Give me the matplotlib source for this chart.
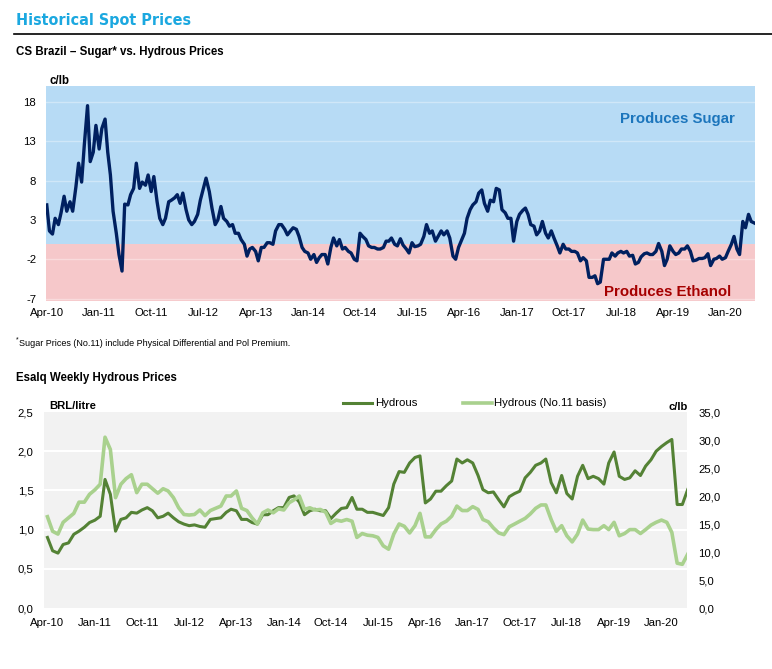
import numpy as np
import pandas as pd
import matplotlib
matplotlib.use('Agg')
import matplotlib.pyplot as plt
from matplotlib.lines import Line2D

plt.rcParams['font.family'] = ['Liberation Sans', 'DejaVu Sans']

# CS Brazil sugar* minus hydrous parity, c/lb, twice a month from Apr-10
sugar_spread = [
    4.9, 1.6, 1.2, 3.2, 2.4, 3.9, 6.0, 4.1, 5.3, 4.1,
    7.2, 10.2, 7.8, 12.5, 17.5, 10.4, 11.6, 15.0, 12.0, 14.6,
    15.8, 11.6, 8.7, 4.1, 1.3, -1.4, -3.5, 5.0, 4.9, 6.2,
    7.0, 10.2, 7.0, 7.8, 7.4, 8.7, 6.6, 8.5, 5.3, 3.2,
    2.4, 3.2, 5.3, 5.5, 5.8, 6.2, 5.1, 6.4, 4.3, 3.0,
    2.4, 2.8, 3.7, 5.5, 7.0, 8.3, 6.6, 4.5, 2.4, 3.0,
    4.7, 3.2, 2.8, 2.2, 2.4, 1.3, 1.3, 0.5, -0.1, -1.6,
    -0.7, -0.5, -1.0, -2.2, -0.5, -0.5, 0.1, 0.1, -0.1, 1.6,
    2.4, 2.4, 1.8, 1.1, 1.6, 2.0, 1.8, 0.9, -0.5, -1.0,
    -1.2, -2.0, -1.4, -2.4, -1.8, -1.4, -1.4, -2.6, -0.5, 0.7,
    -0.3, 0.5, -0.7, -0.5, -1.0, -1.2, -2.0, -2.2, 1.3, 0.9,
    0.5, -0.3, -0.5, -0.5, -0.7, -0.7, -0.5, 0.3, 0.3, 0.7,
    -0.1, -0.3, 0.6, -0.2, -0.7, -1.2, 0.1, -0.4, -0.3, -0.1,
    0.9, 2.4, 1.3, 1.6, 0.3, 0.9, 1.6, 1.1, 1.6, 0.7,
    -1.6, -2.0, -0.5, 0.3, 1.3, 3.2, 4.3, 4.9, 5.3, 6.4,
    6.8, 5.1, 4.1, 5.5, 5.3, 7.0, 6.8, 4.3, 3.9, 3.2,
    3.2, 0.3, 2.8, 3.7, 4.2, 4.5, 3.7, 2.4, 2.2, 1.1,
    1.6, 2.8, 1.3, 0.7, 1.6, 0.7, -0.3, -1.2, -0.1, -0.7,
    -0.7, -1.0, -1.0, -1.2, -2.2, -1.8, -2.2, -4.3, -4.3, -4.1,
    -5.1, -4.9, -2.0, -2.0, -2.0, -1.2, -1.6, -1.2, -1.0, -1.2,
    -1.0, -1.6, -1.5, -2.6, -2.4, -1.7, -1.3, -1.2, -1.4, -1.4,
    -1.0, 0.0, -1.0, -2.8, -2.0, -0.3, -1.0, -1.4, -1.2, -0.7,
    -0.7, -0.3, -1.0, -2.2, -2.1, -1.9, -1.9, -1.8, -1.3, -2.8,
    -2.0, -1.9, -1.6, -2.0, -1.8, -1.0, -0.1, 0.9, -0.7, -1.4,
    2.8, 2.0, 3.7, 2.8, 2.6,
]

# Esalq hydrous, monthly from Apr-10 (BRL/litre)
hydrous_brl = [
    0.90, 0.73, 0.70, 0.81, 0.83, 0.94, 0.98, 1.03, 1.09, 1.12,
    1.17, 1.64, 1.45, 0.98, 1.13, 1.15, 1.22, 1.21, 1.25, 1.28,
    1.24, 1.15, 1.17, 1.21, 1.15, 1.10, 1.07, 1.05, 1.06, 1.04,
    1.03, 1.13, 1.14, 1.15, 1.22, 1.26, 1.24, 1.13, 1.13, 1.09,
    1.07, 1.19, 1.19, 1.24, 1.28, 1.28, 1.41, 1.43, 1.35, 1.19,
    1.24, 1.26, 1.24, 1.24, 1.14, 1.21, 1.27, 1.28, 1.41, 1.26,
    1.26, 1.22, 1.22, 1.20, 1.18, 1.28, 1.58, 1.74, 1.73, 1.85,
    1.92, 1.94, 1.34, 1.39, 1.49, 1.49, 1.56, 1.62, 1.90, 1.85,
    1.89, 1.85, 1.69, 1.51, 1.47, 1.48, 1.38, 1.29, 1.42, 1.46,
    1.49, 1.66, 1.73, 1.82, 1.85, 1.90, 1.60, 1.47, 1.69, 1.46,
    1.39, 1.68, 1.82, 1.65, 1.68, 1.65, 1.58, 1.85, 1.99, 1.68,
    1.64, 1.66, 1.75, 1.69, 1.81, 1.89, 2.00, 2.06, 2.11, 2.15,
    1.32, 1.32, 1.51,
]

# same series on a No.11 basis (c/lb)
hydrous_no11 = [
    16.3, 13.7, 13.2, 15.3, 16.1, 16.9, 18.9, 18.9, 20.3, 21.1,
    22.1, 30.5, 28.3, 19.7, 22.1, 23.1, 23.8, 20.6, 22.1, 22.1,
    21.3, 20.5, 21.3, 20.9, 19.7, 17.9, 16.7, 16.6, 16.7, 17.5,
    16.5, 17.4, 17.8, 18.2, 20.0, 20.0, 20.9, 17.8, 17.4, 16.1,
    15.0, 17.0, 17.5, 17.0, 17.7, 17.5, 18.8, 19.3, 20.0, 17.6,
    17.9, 17.5, 17.6, 17.1, 15.1, 15.7, 15.5, 15.8, 15.5, 12.6,
    13.3, 13.0, 12.9, 12.6, 11.1, 10.5, 13.2, 15.0, 14.6, 13.4,
    14.7, 16.9, 12.7, 12.7, 14.0, 15.0, 15.5, 16.4, 18.2, 17.4,
    17.4, 18.1, 17.6, 15.8, 15.4, 14.3, 13.4, 13.1, 14.5, 15.0,
    15.5, 16.0, 16.8, 17.8, 18.4, 18.4, 15.8, 13.7, 14.7, 12.9,
    11.8, 13.2, 15.7, 14.1, 14.0, 14.0, 14.7, 14.0, 15.3, 12.9,
    13.3, 14.0, 14.0, 13.3, 14.0, 14.8, 15.3, 15.7, 15.3, 13.5,
    8.0, 7.8, 9.6,
]

date_labels = ['Apr-10', 'Jan-11', 'Oct-11', 'Jul-12', 'Apr-13', 'Jan-14', 'Oct-14',
               'Jul-15', 'Apr-16', 'Jan-17', 'Oct-17', 'Jul-18', 'Apr-19', 'Jan-20']
spread_ticks = [-7, -2, 3, 8, 13, 18]
brl_ticks = [0.0, 0.5, 1.0, 1.5, 2.0, 2.5]
clb_ticks = [0, 5, 10, 15, 20, 25, 30, 35]

W, H = 772, 669
sugar_dates = pd.date_range('2010-04-01', periods=len(sugar_spread), freq='SMS')
hyd_dates = pd.date_range('2010-04-01', periods=len(hydrous_brl), freq='MS')
tick_dates = pd.to_datetime(date_labels, format='%b-%y')


def px_axes(fig, left, top, right, bottom):
    return fig.add_axes([left / W, 1 - bottom / H, (right - left) / W, (bottom - top) / H])


def ftext(fig, x, y, s, **kw):
    kw.setdefault('va', 'center')
    return fig.text(x / W, 1 - y / H, s, **kw)


fig = plt.figure(figsize=(W / 100, H / 100), dpi=100)

# headers
ftext(fig, 16, 20, 'Historical Spot Prices', fontsize=11.5, fontweight='bold',
      color='#1ba8e0', family='DejaVu Sans', fontstretch='condensed')
fig.add_artist(Line2D([14 / W, 1], [1 - 34 / H, 1 - 34 / H], color='black', lw=1.2))
ftext(fig, 16, 52, 'CS Brazil \u2013 Sugar* vs. Hydrous Prices', fontsize=8.3, fontweight='bold')

# ---- top chart
ax1 = px_axes(fig, 46, 86, 755, 301)
ymin, ymax, split = -7.3, 20, -0.1
ax1.axhspan(split, ymax, color='#b7dbf5', lw=0, zorder=0)
ax1.axhspan(ymin, split, color='#f6c8ca', lw=0, zorder=0)
for y in spread_ticks:
    ax1.axhline(y, color='white', alpha=0.35, lw=1, zorder=1)
ax1.plot(sugar_dates, sugar_spread, color='#002060', lw=2.4, zorder=3,
         solid_joinstyle='round')
ax1.set_ylim(ymin, ymax)
ax1.set_xlim(pd.Timestamp('2010-03-28'), pd.Timestamp('2020-06-04'))
ax1.set_yticks(spread_ticks)
ax1.set_yticklabels([str(t) for t in spread_ticks])
ax1.set_xticks(tick_dates)
ax1.set_xticklabels(date_labels)
ax1.tick_params(length=0, labelsize=8.2)
ax1.tick_params(axis='y', pad=7)
ax1.tick_params(axis='x', pad=5)
for s in ax1.spines.values():
    s.set_visible(False)
ftext(fig, 50, 81, 'c/lb', fontsize=8.3, fontweight='bold')
ax1.text(0.972, 0.845, 'Produces Sugar', transform=ax1.transAxes, ha='right', va='center',
         fontsize=10.8, fontweight='bold', color='#1b75bc')
ax1.text(0.967, 0.042, 'Produces Ethanol', transform=ax1.transAxes, ha='right', va='center',
         fontsize=10.8, fontweight='bold', color='#a50000')

# footnote
ftext(fig, 15.5, 340, '*', fontsize=5)
ftext(fig, 19, 343, 'Sugar Prices (No.11) include Physical Differential and Pol Premium.',
      fontsize=6.5)

ftext(fig, 16, 378, 'Esalq Weekly Hydrous Prices', fontsize=8.3, fontweight='bold')

# ---- bottom chart: BRL/litre on the left, No.11 basis on the right axis
ax2 = px_axes(fig, 44, 412, 687, 608)
ax2.set_facecolor('#f2f2f2')
for y in brl_ticks[1:-1]:
    ax2.axhline(y, color='white', lw=1.5, zorder=1)
ax2.plot(hyd_dates, hydrous_brl, color='#548235', lw=2.2, zorder=3)
ax3 = ax2.twinx()
ax3.plot(hyd_dates, hydrous_no11, color='#a9d18e', lw=2.6, zorder=3)

ax2.set_ylim(0, 2.5)
ax3.set_ylim(0, 35)
ax2.set_xlim(pd.Timestamp('2010-03-12'), pd.Timestamp('2020-05-28'))
ax2.set_yticks(brl_ticks)
ax2.set_yticklabels([f'{t:.1f}'.replace('.', ',') for t in brl_ticks])
ax3.set_yticks(clb_ticks)
ax3.set_yticklabels([f'{t:.1f}'.replace('.', ',') for t in clb_ticks])
ax2.set_xticks(tick_dates)
ax2.set_xticklabels(date_labels)
ax2.tick_params(length=0, labelsize=8.2)
ax2.tick_params(axis='y', pad=7.5)
ax2.tick_params(axis='x', pad=7)
ax3.tick_params(length=0, labelsize=8.2, pad=8)
for a in (ax2, ax3):
    for s in a.spines.values():
        s.set_visible(False)

ftext(fig, 49, 406, 'BRL/litre', fontsize=8.1, fontweight='bold')
ftext(fig, 688, 407, 'c/lb', fontsize=8.1, fontweight='bold', ha='right')

# legend
fig.add_artist(Line2D([343 / W, 372 / W], [1 - 403 / H] * 2, color='#548235', lw=2.2))
ftext(fig, 375, 403, 'Hydrous', fontsize=8.2)
fig.add_artist(Line2D([463 / W, 492 / W], [1 - 403 / H] * 2, color='#a9d18e', lw=2.6))
ftext(fig, 494, 403, 'Hydrous (No.11 basis)', fontsize=8.2)

fig.savefig('out.png', dpi=100)
